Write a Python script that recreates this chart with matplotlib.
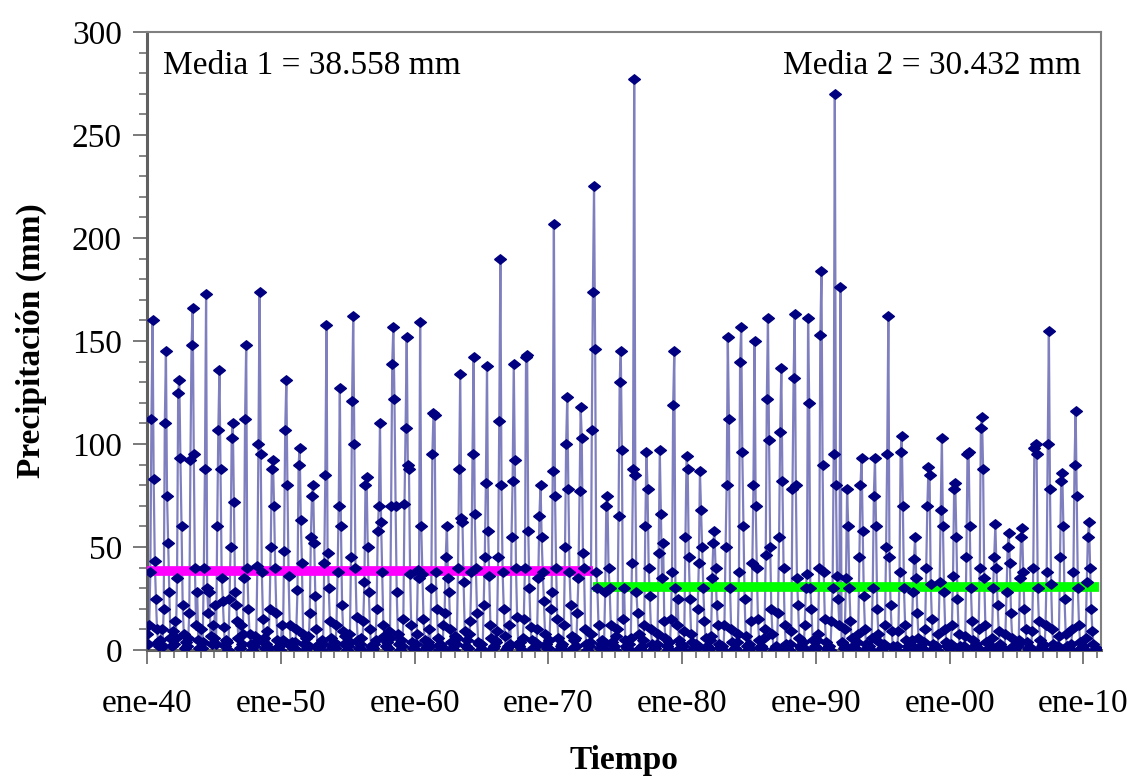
import numpy as np
import pandas as pd
import matplotlib
matplotlib.use("Agg")
import matplotlib.pyplot as plt
import matplotlib.dates as mdates

plt.rcParams['font.family'] = ['Liberation Serif', 'DejaVu Serif']

# --------------------------------------------------------------------------
# Data: monthly precipitation (mm), one row per year, Jan..Dec
# --------------------------------------------------------------------------
p1940s = [
    [8, 3, 12, 38, 112, 160, 83, 43, 25, 10, 4, 2],
    [5, 10, 2, 20, 110, 145, 75, 52, 28, 6, 2, 9],
    [3, 14, 6, 35, 125, 131, 93, 60, 22, 8, 1, 4],
    [2, 6, 18, 92, 148, 166, 95, 40, 12, 28, 5, 1],
    [10, 1, 4, 40, 88, 173, 30, 18, 28, 7, 3, 12],
    [6, 22, 3, 60, 107, 136, 88, 35, 24, 11, 2, 5],
    [4, 0, 25, 50, 103, 110, 72, 28, 22, 14, 6, 1],
    [12, 3, 8, 35, 112, 148, 40, 20, 8, 3, 0, 2],
    [2, 7, 4, 41, 100, 174, 95, 38, 15, 6, 1, 3],
    [9, 1, 20, 50, 88, 92, 70, 40, 18, 5, 2, 0],
]
p1950s = [
    [3, 12, 5, 48, 107, 131, 80, 36, 12, 2, 4, 1],
    [1, 4, 10, 29, 90, 98, 63, 42, 8, 3, 0, 6],
    [7, 2, 18, 55, 75, 80, 52, 26, 10, 1, 3, 0],
    [0, 5, 3, 42, 85, 158, 47, 30, 14, 6, 1, 2],
    [4, 1, 12, 38, 70, 127, 60, 22, 9, 3, 7, 0],
    [2, 8, 4, 45, 121, 162, 100, 40, 16, 5, 1, 3],
    [6, 0, 14, 33, 80, 84, 50, 28, 10, 2, 0, 1],
    [3, 5, 20, 58, 70, 110, 62, 38, 12, 7, 2, 4],
    [1, 9, 6, 70, 139, 157, 122, 70, 28, 8, 3, 0],
    [5, 2, 15, 71, 108, 152, 90, 88, 37, 12, 4, 1],
]
p1960s = [
    [0, 3, 8, 39, 35, 159, 60, 37, 15, 5, 1, 2],
    [4, 10, 2, 30, 95, 115, 114, 38, 20, 6, 0, 3],
    [2, 0, 12, 18, 45, 60, 35, 28, 10, 4, 1, 0],
    [7, 3, 6, 40, 88, 134, 64, 62, 33, 9, 2, 5],
    [1, 8, 14, 38, 95, 142, 66, 40, 18, 4, 3, 0],
    [3, 0, 22, 45, 81, 138, 58, 36, 12, 6, 1, 2],
    [5, 4, 9, 45, 111, 190, 80, 38, 20, 7, 0, 1],
    [2, 12, 3, 55, 82, 139, 92, 40, 16, 3, 2, 4],
    [0, 6, 15, 40, 142, 143, 58, 30, 11, 5, 1, 0],
    [4, 2, 10, 35, 65, 80, 55, 38, 24, 8, 3, 1],
]
p1970s = [
    [1, 5, 20, 28, 87, 207, 75, 40, 15, 6, 0, 2],
    [3, 0, 12, 50, 100, 123, 78, 38, 22, 7, 1, 5],
    [6, 2, 18, 35, 77, 118, 103, 47, 40, 10, 3, 0],
    [2, 4, 8, 107, 174, 225, 146, 38, 30, 12, 1, 3],
    [5, 1, 3, 28, 70, 75, 40, 30, 12, 4, 0, 2],
    [0, 7, 10, 65, 130, 145, 97, 15, 30, 5, 2, 1],
    [3, 0, 6, 42, 88, 277, 85, 28, 18, 8, 1, 0],
    [2, 5, 12, 60, 96, 78, 40, 26, 10, 3, 0, 1],
    [1, 3, 8, 47, 97, 66, 35, 52, 14, 6, 2, 0],
    [4, 0, 15, 38, 119, 145, 30, 12, 25, 5, 1, 3],
]
p1980s = [
    [0, 2, 9, 55, 94, 88, 45, 25, 8, 4, 0, 1],
    [3, 1, 20, 42, 87, 68, 50, 30, 14, 6, 2, 0],
    [1, 5, 7, 35, 52, 58, 40, 22, 12, 3, 1, 2],
    [2, 0, 12, 50, 80, 152, 112, 30, 10, 4, 0, 1],
    [0, 4, 8, 38, 140, 157, 96, 60, 25, 7, 2, 0],
    [3, 1, 14, 42, 80, 150, 70, 40, 15, 5, 1, 2],
    [1, 6, 10, 46, 122, 161, 102, 50, 20, 8, 0, 1],
    [2, 0, 18, 55, 106, 137, 82, 40, 12, 3, 1, 0],
    [0, 3, 9, 78, 132, 163, 80, 35, 22, 6, 2, 1],
    [4, 1, 12, 30, 37, 161, 120, 30, 20, 5, 0, 2],
]
p1990s = [
    [1, 5, 8, 40, 153, 184, 90, 38, 15, 4, 1, 0],
    [2, 0, 14, 30, 95, 270, 80, 36, 25, 12, 176, 4],
    [3, 1, 10, 35, 78, 60, 30, 14, 6, 2, 0, 1],
    [0, 4, 8, 45, 80, 93, 58, 26, 10, 3, 1, 0],
    [2, 0, 6, 30, 75, 93, 60, 20, 8, 4, 0, 1],
    [1, 3, 12, 50, 95, 162, 45, 22, 9, 2, 1, 0],
    [0, 2, 9, 38, 96, 104, 70, 30, 12, 5, 0, 2],
    [3, 1, 5, 28, 44, 55, 35, 18, 6, 2, 0, 1],
    [0, 4, 10, 40, 70, 89, 85, 32, 15, 3, 1, 0],
    [2, 0, 8, 33, 68, 103, 60, 28, 10, 4, 2, 1],
]
p2000s = [
    [1, 3, 12, 36, 78, 81, 55, 25, 8, 2, 0, 0],
    [0, 2, 7, 45, 95, 96, 60, 30, 14, 5, 1, 2],
    [3, 1, 10, 40, 108, 113, 88, 35, 12, 4, 0, 1],
    [0, 2, 6, 30, 45, 61, 40, 22, 9, 3, 1, 0],
    [1, 0, 8, 28, 50, 57, 42, 18, 6, 2, 0, 1],
    [2, 3, 5, 35, 55, 59, 38, 20, 10, 4, 1, 0],
    [0, 1, 9, 40, 98, 100, 95, 30, 14, 5, 0, 2],
    [3, 0, 12, 38, 100, 155, 78, 32, 10, 3, 1, 0],
    [1, 2, 7, 45, 82, 86, 60, 25, 8, 2, 0, 1],
    [0, 3, 10, 38, 90, 116, 75, 30, 12, 4, 1, 0],
]
p2010s = [
    [2, 0, 6, 33, 55, 62, 40, 20, 9, 3, 0, 1],
]

# Means of the two sub-periods (as annotated) and the break month
media_1 = 38.558
media_2 = 30.432
break_date = '1973-05-01'

# --------------------------------------------------------------------------
# Build the monthly series
# --------------------------------------------------------------------------
rows = p1940s + p1950s + p1960s + p1970s + p1980s + p1990s + p2000s + p2010s
values = np.array(rows, dtype=float).ravel()
dates = pd.date_range('1940-01-01', periods=len(values), freq='MS')
precip = pd.Series(values, index=dates)

# --------------------------------------------------------------------------
# Plot
# --------------------------------------------------------------------------
fig = plt.figure(figsize=(11.36, 7.78), dpi=100)
ax = fig.add_axes([0.1294, 0.1645, 0.8395, 0.7944])

navy = '#000080'
diamond = [(-1, 0), (0, 0.8), (1, 0), (0, -0.8), (-1, 0)]

ax.plot(precip.index, precip.values, color=navy, lw=1.6, alpha=0.5, zorder=2)

brk = pd.Timestamp(break_date)
ax.plot([precip.index[0], brk], [media_1, media_1], color='#ff00ff', lw=7,
        solid_capstyle='butt', zorder=3)
ax.plot([brk, precip.index[-1] + pd.Timedelta(days=90)], [media_2, media_2],
        color='#00ff00', lw=7, solid_capstyle='butt', zorder=3)

ax.plot(precip.index, precip.values, ls='none', marker=diamond, ms=8.5,
        color=navy, mec=navy, zorder=4)

ax.set_ylim(0, 300)
ax.set_yticks(np.arange(0, 301, 50))
ax.set_yticks(np.arange(0, 301, 10), minor=True)
ax.set_xlim(pd.Timestamp('1940-01-01'), pd.Timestamp('2011-04-15'))
ax.xaxis.set_major_locator(mdates.YearLocator(10, month=1, day=1))
ax.xaxis.set_minor_locator(mdates.YearLocator(1, month=1, day=1))
ax.xaxis.set_major_formatter(
    plt.FuncFormatter(lambda v, p: 'ene-' + mdates.num2date(v).strftime('%y')))

ax.tick_params(axis='both', which='major', labelsize=24, length=10, width=1.3,
               color='#707070', direction='out')
ax.tick_params(axis='both', which='minor', length=6, width=1.2,
               color='#707070', direction='out')
ax.tick_params(axis='x', which='major', pad=18)
ax.tick_params(axis='y', which='major', pad=8)

for s in ax.spines.values():
    s.set_color('#808080')
    s.set_linewidth(1.5)
ax.spines['left'].set_color('#606060')
ax.spines['left'].set_linewidth(2.2)
ax.spines['bottom'].set_color('#606060')
ax.spines['bottom'].set_linewidth(2.2)

ax.set_ylabel('Precipitación (mm)', fontsize=24, fontweight='bold', labelpad=18)
ax.set_xlabel('Tiempo', fontsize=24, fontweight='bold', va='center')
ax.xaxis.set_label_coords(0.5, -0.178)

ax.text(0.017, 0.945, 'Media 1 = 38.558 mm', transform=ax.transAxes,
        fontsize=24, ha='left', va='center')
ax.text(0.979, 0.945, 'Media 2 = 30.432 mm', transform=ax.transAxes,
        fontsize=24, ha='right', va='center')

fig.savefig('out.png', dpi=100)
